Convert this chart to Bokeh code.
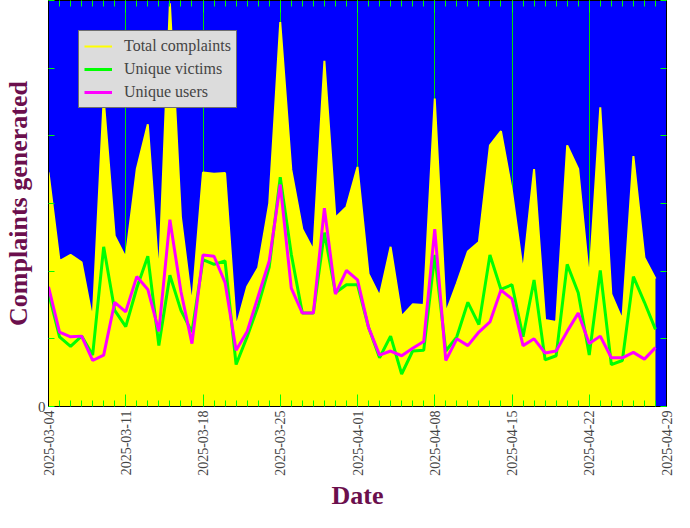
import math
from datetime import datetime, timedelta
from bokeh.plotting import figure
from bokeh.models import (FixedTicker, DatetimeTickFormatter, DatetimeAxis, LinearAxis,
                          Range1d, ColumnDataSource, Legend, LegendItem)
from bokeh.embed import file_html
from bokeh.resources import INLINE

# ---------------- data ----------------
start_date = datetime(2025, 3, 4)
dates = [start_date + timedelta(days=i) for i in range(56)]

total_complaints = [34.6, 21.5, 22.4, 21.3, 12.8, 45.5, 25.2, 22.0, 35.1, 41.7, 19.2, 59.6,
                    28.0, 15.0, 34.6, 34.4, 34.5, 11.7, 17.7, 20.5, 30.0, 56.8, 35.0,
                    26.2, 23.1, 51.1, 27.9, 29.5, 35.4, 19.6, 16.3, 23.6, 13.3, 15.1, 15.0,
                    45.5, 13.8, 18.2, 22.9, 24.3, 38.6, 40.7, 31.8, 19.9, 35.1,
                    12.8, 12.5, 38.6, 35.1, 18.7, 44.2, 16.6, 12.8, 37.0, 22.0, 18.9]
unique_victims = [16.8, 10.3, 8.9, 10.4, 7.6, 23.6, 14.2, 11.8, 17.5, 22.2, 9.0, 19.4,
                  14.2, 11.0, 21.7, 21.0, 21.5, 6.2, 10.3, 14.9, 20.6, 33.9, 22.5,
                  13.8, 13.8, 25.7, 16.8, 18.0, 18.0, 11.7, 7.2, 10.4, 4.8, 8.2, 8.3,
                  22.4, 8.2, 10.3, 15.4, 12.1, 22.4, 17.3, 18.0, 10.3, 18.7,
                  6.9, 7.5, 21.0, 16.8, 7.6, 20.1, 6.2, 6.8, 19.2, 15.4, 11.4]
unique_users = [17.7, 11.0, 10.3, 10.4, 6.8, 7.6, 15.4, 14.0, 19.2, 17.3, 11.1, 27.6,
                17.0, 9.3, 22.4, 22.2, 18.3, 8.3, 11.1, 16.3, 21.5, 32.8, 17.5,
                13.8, 13.8, 29.3, 16.6, 20.1, 18.7, 11.7, 7.6, 8.2, 7.5, 8.6, 9.6,
                26.2, 6.8, 10.0, 9.0, 11.0, 12.5, 17.2, 15.9, 9.0, 10.0,
                7.9, 8.2, 11.1, 13.8, 9.3, 10.4, 7.2, 7.2, 8.0, 7.0, 8.7]

x_tick_dates = [datetime(2025, 3, 4) + timedelta(days=7 * i) for i in range(9)]
x_minor_dates = [datetime(2025, 3, 4) + timedelta(days=i) for i in range(57)]
y_ticks = [0, 10, 20, 30, 40, 50, 60]
y_tick_labels = {0: "0", 10: "", 20: "", 30: "", 40: "", 50: "", 60: ""}

# ---------------- plot ----------------
def ms(d):
    return (d - datetime(1970, 1, 1)).total_seconds() * 1000.0

src = ColumnDataSource(dict(date=dates, total=total_complaints,
                            victims=unique_victims, users=unique_users))

SERIF = "Liberation Serif"
TICK_GREEN = "#00ff00"
LABEL_COLOR = "#6b0f4d"

p = figure(width=674, height=512, x_axis_type="datetime",
           output_backend="svg", toolbar_location=None,
           x_range=Range1d(start_date, datetime(2025, 4, 29)),
           y_range=Range1d(0, 60),
           background_fill_color="#0000ff", border_fill_color="white",
           min_border_top=0, min_border_right=8, min_border_left=0, min_border_bottom=0)
p.outline_line_color = "black"

xticker = FixedTicker(ticks=[ms(d) for d in x_tick_dates],
                      minor_ticks=[ms(d) for d in x_minor_dates])
yticker = FixedTicker(ticks=y_ticks, minor_ticks=[])
fmt = "%Y-%m-%d"
xfmt = DatetimeTickFormatter(milliseconds=fmt, seconds=fmt, minsec=fmt, minutes=fmt,
                             hourmin=fmt, hours=fmt, days=fmt, months=fmt, years=fmt)

xa = p.xaxis[0]
xa.ticker = xticker
xa.formatter = xfmt
xa.major_label_orientation = math.pi / 2
xa.major_label_text_font = SERIF
xa.major_label_text_font_size = "14px"
xa.major_label_standoff = 4
xa.major_tick_in = 12
xa.major_tick_out = 0
xa.minor_tick_in = 6
xa.minor_tick_out = 0
xa.major_tick_line_color = TICK_GREEN
xa.minor_tick_line_color = TICK_GREEN
xa.axis_line_color = "black"
xa.axis_label = "Date"
xa.axis_label_text_font = SERIF
xa.axis_label_text_font_style = "bold"
xa.axis_label_text_font_size = "26px"
xa.axis_label_text_color = LABEL_COLOR
xa.axis_label_standoff = 2

ya = p.yaxis[0]
ya.ticker = yticker
ya.major_label_overrides = y_tick_labels
ya.major_label_text_font = SERIF
ya.major_label_text_font_size = "15px"
ya.major_label_standoff = 3
ya.major_tick_in = 6
ya.major_tick_out = 0
ya.minor_tick_line_color = None
ya.major_tick_line_color = TICK_GREEN
ya.axis_line_color = "black"
ya.axis_label = "Complaints generated"
ya.axis_label_text_font = SERIF
ya.axis_label_text_font_style = "bold"
ya.axis_label_text_font_size = "26px"
ya.axis_label_text_color = LABEL_COLOR
ya.axis_label_standoff = 2

top_axis = DatetimeAxis(ticker=xticker, formatter=xfmt,
                        major_label_text_font_size="0px", major_label_standoff=0,
                        major_tick_in=12, major_tick_out=0, minor_tick_in=6, minor_tick_out=0,
                        major_tick_line_color=TICK_GREEN, minor_tick_line_color=TICK_GREEN,
                        axis_line_color="black")
p.add_layout(top_axis, "above")
right_axis = LinearAxis(ticker=yticker, major_label_text_font_size="0px",
                        major_label_standoff=0, major_tick_in=6, major_tick_out=0,
                        minor_tick_line_color=None, major_tick_line_color=TICK_GREEN,
                        axis_line_color="black")
p.add_layout(right_axis, "right")

p.xgrid.ticker = xticker
p.xgrid.grid_line_color = "#00dd00"
p.xgrid.grid_line_width = 1
p.ygrid.grid_line_color = None

p.varea(x="date", y1=0, y2="total", source=src, fill_color="#ffff00")
r_total = p.line(x="date", y="total", source=src, line_color="#ffff00", line_width=2)
r_vict = p.line(x="date", y="victims", source=src, line_color="#00ff00", line_width=3)
r_users = p.line(x="date", y="users", source=src, line_color="#ff00ff", line_width=3)

legend = Legend(items=[LegendItem(label="Total complaints", renderers=[r_total]),
                       LegendItem(label="Unique victims", renderers=[r_vict]),
                       LegendItem(label="Unique users", renderers=[r_users])],
                location="top_left", margin=30, padding=5, spacing=3,
                glyph_width=28, glyph_height=20, label_height=20, label_standoff=12,
                label_text_font=SERIF, label_text_font_size="16px",
                background_fill_color="#dcdcdc", background_fill_alpha=1.0,
                border_line_color="black", border_line_width=1)
p.add_layout(legend, "center")

open("out.html", "w").write(file_html(p, INLINE))
